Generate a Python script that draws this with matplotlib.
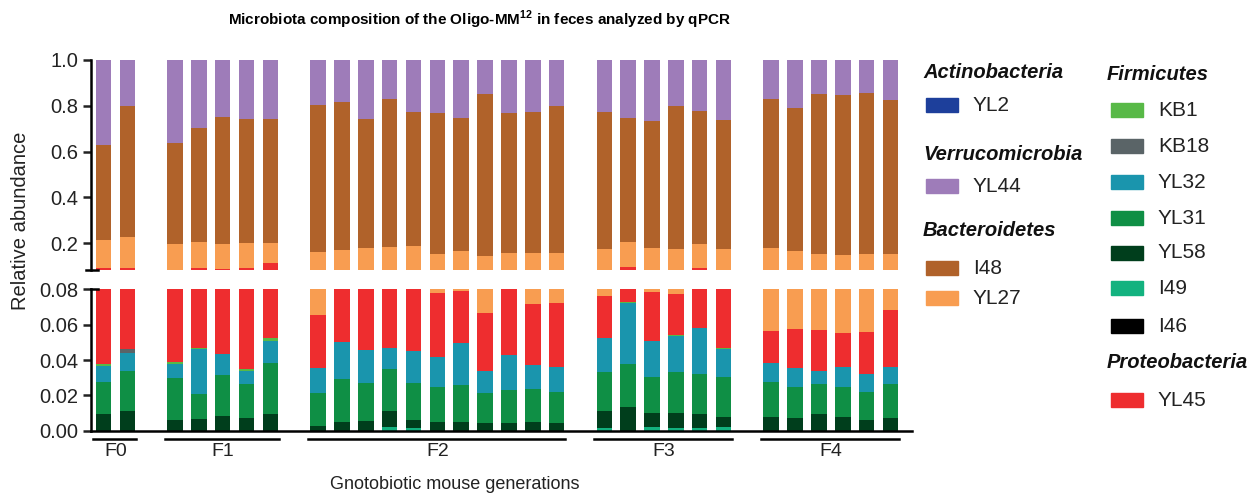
import numpy as np
import matplotlib.pyplot as plt
from matplotlib.patches import Rectangle
from matplotlib.transforms import blended_transform_factory

plt.rcParams['font.family'] = ['Liberation Sans', 'DejaVu Sans']
plt.rcParams['mathtext.fontset'] = 'custom'
plt.rcParams['mathtext.rm'] = 'Liberation Sans'
plt.rcParams['mathtext.bf'] = 'Liberation Sans:bold'

# Generations and number of mice per generation
generations = ['F0', 'F1', 'F2', 'F3', 'F4']
group_sizes = [2, 5, 11, 6, 6]

# Relative abundance per mouse (30 mice), one list per strain
I46 = [0.0] * 30
I49 = [0, 0, 0, 0, 0, 0, 0,
       0, 0, 0, 0.0019, 0.0015, 0, 0, 0, 0, 0, 0,
       0.0015, 0, 0.0019, 0.0018, 0.0018, 0.0023,
       0, 0, 0, 0, 0, 0]
YL58 = [0.0094, 0.0109,
        0.0060, 0.0066, 0.0085, 0.0072, 0.0092,
        0.0026, 0.0049, 0.0055, 0.0090, 0.0043, 0.0047, 0.0047, 0.0045, 0.0045, 0.0047, 0.0043,
        0.0096, 0.0134, 0.0083, 0.0080, 0.0078, 0.0056,
        0.0079, 0.0074, 0.0092, 0.0075, 0.0058, 0.0074]
YL31 = [0.0183, 0.0231,
        0.0240, 0.0143, 0.0232, 0.0194, 0.0289,
        0.0189, 0.0241, 0.0217, 0.0242, 0.0212, 0.0200, 0.0211, 0.0170, 0.0185, 0.0187, 0.0178,
        0.0221, 0.0243, 0.0204, 0.0236, 0.0227, 0.0225,
        0.0198, 0.0175, 0.0170, 0.0174, 0.0163, 0.0188]
YL32 = [0.0091, 0.0100,
        0.0080, 0.0253, 0.0115, 0.0072, 0.0128,
        0.0142, 0.0212, 0.0185, 0.0119, 0.0183, 0.0172, 0.0236, 0.0123, 0.0196, 0.0136, 0.0139,
        0.0194, 0.0348, 0.0202, 0.0202, 0.0256, 0.0160,
        0.0104, 0.0108, 0.0078, 0.0113, 0.0098, 0.0096]
KB18 = [0, 0.0020,
        0, 0, 0, 0, 0,
        0, 0, 0, 0, 0, 0, 0, 0, 0, 0, 0,
        0, 0, 0, 0, 0, 0,
        0, 0, 0, 0, 0, 0]
KB1 = [0.0007, 0,
       0.0007, 0.0004, 0.0004, 0.0012, 0.0014,
       0, 0, 0, 0, 0, 0, 0, 0, 0, 0, 0,
       0, 0.0004, 0, 0.0004, 0.0004, 0.0004,
       0, 0, 0, 0, 0, 0]
YL2 = [0.0] * 30
YL45 = [0.0565, 0.0450,
        0.0463, 0.0444, 0.0434, 0.0560, 0.0607,
        0.0296, 0.0318, 0.0363, 0.0390, 0.0407, 0.0358, 0.0296, 0.0330, 0.0394, 0.0347, 0.0365,
        0.0238, 0.0261, 0.0275, 0.0234, 0.0327, 0.0352,
        0.0185, 0.0218, 0.0230, 0.0193, 0.0239, 0.0325]
YL27 = [0.1205, 0.1350,
        0.1120, 0.1160, 0.1100, 0.1120, 0.0900,
        0.0987, 0.0890, 0.0960, 0.0970, 0.1010, 0.0773, 0.0890, 0.0782, 0.0770, 0.0873, 0.0865,
        0.0986, 0.1080, 0.0997, 0.0976, 0.1060, 0.0950,
        0.1214, 0.1075, 0.0970, 0.0925, 0.0982, 0.0867]
I48 = [0.4155, 0.5710,
       0.4420, 0.4970, 0.5550, 0.5380, 0.5400,
       0.6370, 0.6430, 0.5650, 0.6460, 0.5870, 0.6130, 0.5800, 0.7040, 0.6080, 0.6130, 0.6410,
       0.5970, 0.5380, 0.5570, 0.6220, 0.5800, 0.5590,
       0.6500, 0.6230, 0.6970, 0.6970, 0.7030, 0.6700]
YL44 = [0.370, 0.203,
        0.361, 0.296, 0.248, 0.259, 0.257,
        0.199, 0.186, 0.257, 0.171, 0.226, 0.232, 0.252, 0.151, 0.233, 0.228, 0.200,
        0.228, 0.255, 0.265, 0.203, 0.223, 0.264,
        0.172, 0.212, 0.149, 0.155, 0.143, 0.175]

# stacking order (bottom -> top) and colours
stack = [('I46', I46, '#000000'), ('I49', I49, '#13b27f'), ('YL58', YL58, '#003e1c'),
         ('YL31', YL31, '#0f8f45'), ('YL32', YL32, '#1a95ad'), ('KB18', KB18, '#5a6467'),
         ('KB1', KB1, '#58b947'), ('YL2', YL2, '#1d3f9b'), ('YL45', YL45, '#ee2d2f'),
         ('YL27', YL27, '#f89d51'), ('I48', I48, '#b0622a'), ('YL44', YL44, '#9e7cb9')]
colors = {name: c for name, _, c in stack}

# x positions with one empty slot between generations
x = []
starts = []
pos = 0
for n in group_sizes:
    starts.append(pos)
    x.extend(range(pos, pos + n))
    pos += n + 1
x = np.array(x)

W, H = 1255, 494
fig = plt.figure(figsize=(W / 100, H / 100), dpi=100)

def fx(px):
    return px / W

def fy(py):
    return 1 - py / H

left, right = 91, 911.7
ax_top = fig.add_axes([fx(left), fy(270), fx(right - left), fy(59.7) - fy(270)])
ax_bot = fig.add_axes([fx(left), fy(430.7), fx(right - left), fy(289.3) - fy(430.7)])

for ax in (ax_top, ax_bot):
    bottom = np.zeros(len(x))
    for name, vals, c in stack:
        vals = np.array(vals)
        ax.bar(x, vals, bottom=bottom, width=0.65, color=c, edgecolor='none')
        bottom += vals
    ax.set_xlim(-0.524, 33.89)
    ax.set_xticks([])
    for s in ['top', 'right']:
        ax.spines[s].set_visible(False)
    ax.spines['left'].set_linewidth(1.8)
    ax.spines['bottom'].set_linewidth(1.8)
    ax.tick_params(axis='y', direction='out', length=6, width=1.8, pad=3,
                   labelsize=14.5, colors='#222222')

ax_top.spines['bottom'].set_visible(False)
ax_top.set_ylim(0.084, 1.0)
ax_top.set_yticks([0.2, 0.4, 0.6, 0.8, 1.0])
ax_top.set_yticklabels(['0.2', '0.4', '0.6', '0.8', '1.0'])
# axis break marks
ax_top.plot([-0.006, 0.008], [0, 0], transform=ax_top.transAxes, color='black',
            lw=1.8, clip_on=False)
ax_bot.plot([0, 0.008], [1, 1], transform=ax_bot.transAxes, color='black',
            lw=1.8, clip_on=False)

ax_bot.set_ylim(0, 0.08)
ax_bot.set_yticks([0, 0.02, 0.04, 0.06, 0.08])
ax_bot.set_yticklabels(['0.00', '0.02', '0.04', '0.06', '0.08'])

# generation brackets below the x axis
trans = blended_transform_factory(ax_bot.transData, ax_bot.transAxes)
for g, s, n in zip(generations, starts, group_sizes):
    ax_bot.plot([s - 0.42, s + n - 1 + 0.35], [-0.06, -0.06], transform=trans,
                color='black', lw=1.8, clip_on=False)
    ax_bot.text(s + (n - 1) / 2, -0.15, g, transform=trans, ha='center', va='center',
                fontsize=14, color='#222222')

fig.text(fx(455), fy(484), 'Gnotobiotic mouse generations', ha='center', va='center',
         fontsize=13, color='#222222')
fig.text(fx(21), fy(221), 'Relative abundance', rotation=90, ha='center', va='center',
         fontsize=14.5, color='#222222')
fig.text(fx(479), fy(20), r'Microbiota composition of the Oligo-MM$^{\mathbf{12}}$ in feces analyzed by qPCR',
         ha='center', va='center', fontsize=11, fontweight='bold')

# legend grouped by phylum
headers = [('Actinobacteria', 923, 73), ('Verrucomicrobia', 923, 155),
           ('Bacteroidetes', 923, 230), ('Firmicutes', 1107, 74),
           ('Proteobacteria', 1107, 363)]
for txt, px, py in headers:
    fig.text(fx(px), fy(py), txt, ha='left', va='center', fontsize=14.5,
             fontweight='bold', fontstyle='italic', color='#111111')

entries = [('YL2', 926, 105), ('YL44', 926, 186), ('I48', 926, 268), ('YL27', 926, 298),
           ('KB1', 1111, 110), ('KB18', 1111, 146), ('YL32', 1111, 182), ('YL31', 1111, 218),
           ('YL58', 1111, 253), ('I49', 1111, 288), ('I46', 1111, 326), ('YL45', 1111, 400)]
for name, px, py in entries:
    fig.patches.append(Rectangle((fx(px), fy(py + 7)), fx(32), fy(py - 7) - fy(py + 7),
                                 transform=fig.transFigure, color=colors[name]))
    fig.text(fx(px + 47), fy(py), name, ha='left', va='center', fontsize=15,
             color='#222222')

plt.savefig('out.png', dpi=100)
